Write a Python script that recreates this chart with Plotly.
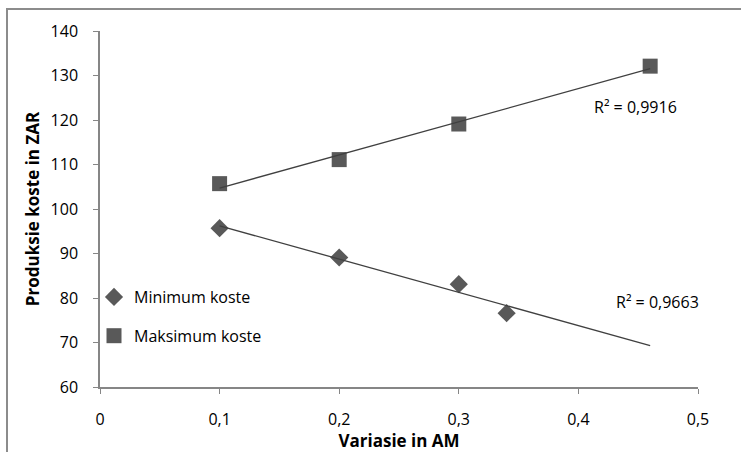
import numpy as np
import plotly.graph_objects as go

# ---- data ----
x_min = [0.1, 0.2, 0.3, 0.34]
y_min = [95.7, 89.1, 83.1, 76.6]
x_max = [0.1, 0.2, 0.3, 0.46]
y_max = [105.7, 111.1, 119.1, 132.1]
trend_range = [0.1, 0.46]
r2_labels = ["R² = 0,9916", "R² = 0,9663"]
r2_pos = [(0.448, 122.9), (0.466, 79.1)]
series_names = ["Minimum koste", "Maksimum koste"]
x_tickvals = [0, 0.1, 0.2, 0.3, 0.4, 0.5]
x_ticktext = ["0", "0,1", "0,2", "0,3", "0,4", "0,5"]
y_tickvals = [60, 70, 80, 90, 100, 110, 120, 130, 140]

FONT = "Open Sans"
MARK = "#595959"
LINE = "#404040"
AXIS = "#868686"

W, H = 741, 452
# plot area in pixels
PL, PR, PT, PB = 100, 698, 31, 387

fig = go.Figure()

fig.add_trace(go.Scatter(x=x_min, y=y_min, mode="markers", name=series_names[0],
                         legendgroup="a",
                         marker=dict(symbol="diamond", size=14, color=MARK)))
fig.add_trace(go.Scatter(x=x_max, y=y_max, mode="markers", name=series_names[1],
                         legendgroup="b",
                         marker=dict(symbol="square", size=15, color=MARK)))

# trendlines (linear least squares on the data, as in the source chart)
for xs, ys in [(x_max, y_max), (x_min, y_min)]:
    k, b = np.polyfit(xs, ys, 1)
    tx = np.array(trend_range)
    fig.add_trace(go.Scatter(x=tx, y=k * tx + b, mode="lines",
                             line=dict(color=LINE, width=1.3),
                             showlegend=False, hoverinfo="skip"))

for txt, (ax, ay) in zip(r2_labels, r2_pos):
    fig.add_annotation(x=ax, y=ay, text=txt, showarrow=False,
                       font=dict(family=FONT, size=16, color="#000000"))

# outer chart frame (top and left edges visible, the rest runs off the picture)
fig.add_shape(type="rect", xref="paper", yref="paper",
              x0=7 / W, y0=-0.2, x1=1.2, y1=1 - 9 / H,
              line=dict(color="#8c8c8c", width=2), fillcolor="rgba(0,0,0,0)")

fig.update_layout(
    width=W, height=H,
    margin=dict(l=0, r=0, t=0, b=0, pad=0),
    plot_bgcolor="white", paper_bgcolor="white",
    font=dict(family=FONT, size=16, color="#000000"),
    legend=dict(x=94 / W, y=1 - 280 / H, xanchor="left", yanchor="top",
                bgcolor="rgba(0,0,0,0)", font=dict(size=16),
                tracegroupgap=15, itemwidth=30),
    xaxis=dict(domain=[PL / W, PR / W], automargin=False,
               range=[0, 0.5], tickvals=x_tickvals, ticktext=x_ticktext,
               showgrid=False, zeroline=False, showline=True, linecolor=AXIS,
               linewidth=1.5, ticks="outside", ticklen=5, tickcolor=AXIS,
               ticklabelstandoff=12,
               title=dict(text="<b>Variasie in AM</b>", standoff=0,
                          font=dict(size=17))),
    yaxis=dict(domain=[1 - PB / H, 1 - PT / H], automargin=False,
               range=[60, 140], tickvals=y_tickvals,
               showgrid=False, zeroline=False, showline=True, linecolor=AXIS,
               linewidth=1.5, ticks="outside", ticklen=5, tickcolor=AXIS,
               ticklabelstandoff=12,
               title=dict(text="<b>Produksie koste in ZAR</b>", standoff=7,
                          font=dict(size=17))),
)

fig.write_html("out.html", config={"displayModeBar": False},
               post_script="document.body.style.margin='0';")
